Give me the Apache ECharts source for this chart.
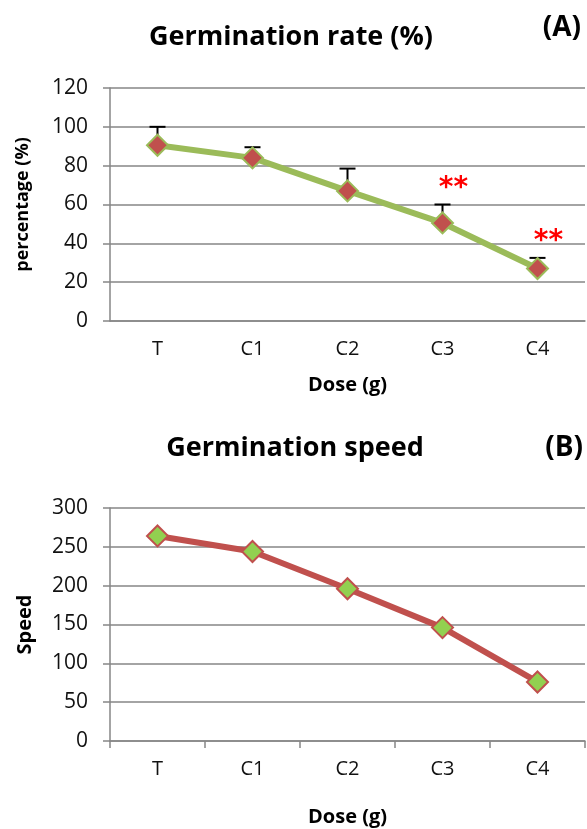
<!DOCTYPE html>
<html><head><meta charset="utf-8">
<script src="https://cdn.jsdelivr.net/npm/echarts@6/dist/echarts.min.js"></script>
<style>html,body{margin:0;padding:0;background:#fff}#c{width:587px;height:829px}</style>
</head><body><div id="c"></div>
<script>
const categories = ['T', 'C1', 'C2', 'C3', 'C4'];
const rateValues = [90.5, 84, 67, 50.5, 27];
const rateErrUpper = [100, 89.5, 78.5, 60, 32.5];
const rateSig = ['', '', '', '**', '**'];
const rateSigPos = [null, null, null, 70, 43];
const speedValues = [264, 244, 196, 146, 76];
const rateTicks = [0, 120, 20];
const speedTicks = [0, 300, 50];

const FONT = '"Open Sans", sans-serif';
const GRAY = '#868686';
const chart = echarts.init(document.getElementById('c'));

function yAxisCfg(gi, ticks, name, gap, nameSize) {
  return {
    type: 'value', gridIndex: gi, min: ticks[0], max: ticks[1], interval: ticks[2],
    name: name, nameLocation: 'middle', nameGap: gap, nameRotate: 90,
    nameTextStyle: {fontFamily: FONT, fontWeight: 'bold', fontSize: nameSize, color: '#000'},
    axisLine: {show: true, lineStyle: {color: GRAY, width: 1.5}},
    axisTick: {show: true, length: 7, lineStyle: {color: GRAY, width: 1.5}},
    axisLabel: {fontFamily: FONT, fontSize: 21, color: '#111', margin: 22},
    splitLine: {show: true, lineStyle: {color: GRAY, width: 1.5}}
  };
}
function xAxisCfg(gi, ticks, gap) {
  return {
    type: 'category', gridIndex: gi, data: categories, boundaryGap: true,
    name: 'Dose (g)', nameLocation: 'middle', nameGap: gap,
    nameTextStyle: {fontFamily: FONT, fontWeight: 'bold', fontSize: 20, color: '#000'},
    axisLine: {show: true, lineStyle: {color: GRAY, width: 1.5}},
    axisTick: {show: ticks, length: 7, inside: false, alignWithLabel: false, lineStyle: {color: GRAY, width: 1.5}},
    axisLabel: {fontFamily: FONT, fontSize: 20, color: '#111', margin: 18},
    splitLine: {show: false}
  };
}

const errData = categories.map((c, i) => [i, rateValues[i], rateErrUpper[i]]);
const sigData = [];
categories.forEach((c, i) => { if (rateSigPos[i] !== null) sigData.push([i, rateSigPos[i], rateSig[i]]); });

chart.setOption({
  animation: false,
  title: [
    {text: 'Germination rate (%)', left: 286, top: 19, textAlign: 'center',
     textStyle: {fontFamily: FONT, fontWeight: 'bold', fontSize: 27, color: '#000'}},
    {text: '(A)', right: 1, top: 9,
     textStyle: {fontFamily: FONT, fontWeight: 'bold', fontSize: 28, color: '#000'}},
    {text: 'Germination speed', left: 290, top: 430, textAlign: 'center',
     textStyle: {fontFamily: FONT, fontWeight: 'bold', fontSize: 27, color: '#000'}},
    {text: '(B)', right: -1, top: 429,
     textStyle: {fontFamily: FONT, fontWeight: 'bold', fontSize: 28, color: '#000'}}
  ],
  grid: [
    {left: 110, top: 88, width: 475, height: 233},
    {left: 110, top: 508, width: 475, height: 233}
  ],
  xAxis: [xAxisCfg(0, false, 54), xAxisCfg(1, true, 66)],
  yAxis: [yAxisCfg(0, rateTicks, 'percentage (%)', 78, 18), yAxisCfg(1, speedTicks, 'Speed', 75, 20)],
  series: [
    {
      type: 'custom', xAxisIndex: 0, yAxisIndex: 0, data: errData, z: 1,
      renderItem: function (params, api) {
        const p0 = api.coord([api.value(0), api.value(1)]);
        const p1 = api.coord([api.value(0), api.value(2)]);
        const w = 8;
        return {type: 'group', children: [
          {type: 'line', shape: {x1: p0[0], y1: p0[1], x2: p1[0], y2: p1[1]}, style: {stroke: '#000', lineWidth: 2}},
          {type: 'line', shape: {x1: p1[0] - w, y1: p1[1], x2: p1[0] + w, y2: p1[1]}, style: {stroke: '#000', lineWidth: 2}}
        ]};
      }
    },
    {
      type: 'line', xAxisIndex: 0, yAxisIndex: 0, data: rateValues, z: 3,
      lineStyle: {color: '#9BBB59', width: 6},
      symbol: 'diamond', symbolSize: 21,
      itemStyle: {color: '#C0504D', borderColor: '#9BBB59', borderWidth: 2}
    },
    {
      type: 'custom', xAxisIndex: 0, yAxisIndex: 0, data: sigData, z: 4,
      renderItem: function (params, api) {
        const p = api.coord([api.value(0), api.value(1)]);
        return {type: 'text', x: p[0] + 11, y: p[1] + 4,
          style: {text: sigData[params.dataIndex][2], fill: '#FF0000', align: 'center', verticalAlign: 'middle',
            font: 'bold 28px "DejaVu Sans", sans-serif'}};
      }
    },
    {
      type: 'line', xAxisIndex: 1, yAxisIndex: 1, data: speedValues, z: 3,
      lineStyle: {color: '#C0504D', width: 6},
      symbol: 'diamond', symbolSize: 21,
      itemStyle: {color: '#92D050', borderColor: '#C0504D', borderWidth: 2}
    }
  ]
});
</script></body></html>
